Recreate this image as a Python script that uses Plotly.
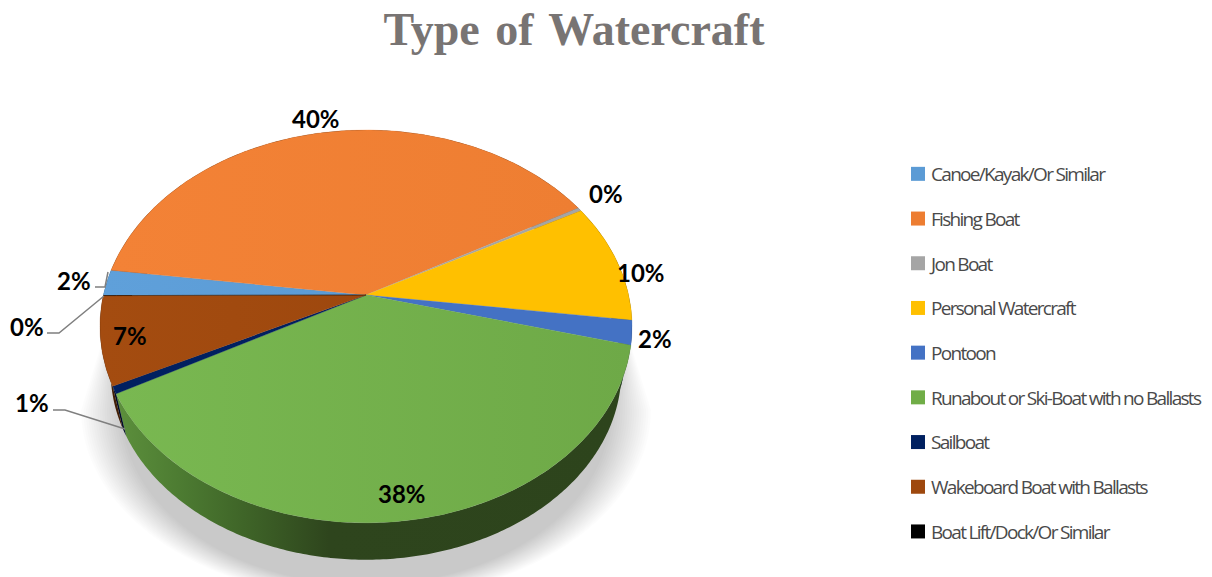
import math
import plotly.graph_objects as go

# ---- data ----
CATEGORIES = ["Canoe/Kayak/Or Similar", "Fishing Boat", "Jon Boat", "Personal Watercraft",
              "Pontoon", "Runabout or Ski-Boat with no Ballasts", "Sailboat",
              "Wakeboard Boat with Ballasts", "Boat Lift/Dock/Or Similar"]
VALUES = [2.1, 39.7, 0.3, 9.9, 2.0, 38.0, 0.6, 7.25, 0.05]
COLORS = ["#5b9bd5", "#ed7d31", "#a5a5a5", "#ffc000", "#4472c4", "#70ad47", "#002060", "#9e480e", "#000000"]
TOP_GRADIENTS = [("#5fa0da", "#5b9bd5"), ("#f38236", "#ee7e32"), ("#a5a5a5", "#a5a5a5"),
                 ("#ffc000", "#ffc000"), ("#4472c4", "#4472c4"), ("#79b851", "#6ea947"),
                 ("#002060", "#002060"), ("#a44c10", "#9e480e"), ("#000000", "#000000")]
# label text is derived from the values; placements (px) are per-slice
LABEL_POS = [(74, 280), (316, 118), (606, 193), (641, 272), (655, 338), (402, 493), (32, 402), (130, 335), (27, 326)]
LEADERS = [[(95, 287), (105, 287), (108, 272)],
           [(47, 333), (59, 333), (104, 296)],
           [(53, 410), (65, 410), (125, 429)]]

# ---- projection of the tilted disc ----
CX, CY = 366, 295
A, B, K = 191.4, 262.6, 0.16
START = 270
BASE_SCALE, BASE_DROP = 0.96, 46


def top(theta):
    s, c = math.sin(math.radians(theta)), math.cos(math.radians(theta))
    d = 1 + K * c
    return B * s / d, -A * c / d


def arc(t0, t1):
    n = max(2, int(abs(t1 - t0) * 1.5) + 1)
    return [t0 + (t1 - t0) * i / (n - 1) for i in range(n)]


def pt_top(t):
    x, y = top(t)
    return CX + x, CY + y


def pt_base(t):
    x, y = top(t)
    return CX + BASE_SCALE * x, CY + BASE_DROP + BASE_SCALE * y


def darken(hexc, f):
    r, g, b = (int(hexc[i:i + 2], 16) for i in (1, 3, 5))
    return "#%02x%02x%02x" % (int(r * f), int(g * f), int(b * f))


fig = go.Figure()

# soft shadow: nested translucent outlines
LAYERS = 18
for i in range(LAYERS):
    e = i / (LAYERS - 1)
    rx, ry = 285 - 40 * e, 190 - 15 * e
    cy = 410
    xs, ys = [104 + 10 * e], [335 + 20 * e]
    for j in range(91):
        a = math.radians(180 - 2 * j)
        xs.append(CX + rx * math.cos(a))
        ys.append(cy + ry * math.sin(a))
    xs.append(631 - 10 * e)
    ys.append(345 + 20 * e)
    fig.add_trace(go.Scatter(x=xs, y=ys, mode="none", fill="toself", fillcolor="rgba(0,0,0,0.0125)",
                             showlegend=False, hoverinfo="skip"))

total = sum(VALUES)
edges = [START]
for v in VALUES:
    edges.append(edges[-1] + v / total * 360)

# side walls
for i, (name, col) in enumerate(zip(CATEGORIES, COLORS)):
    ts = arc(edges[i], edges[i + 1])
    up = [pt_top(t) for t in ts]
    dn = [pt_base(t) for t in reversed(ts)]
    poly = up + dn
    kw = dict(fillcolor=darken(col, 0.42))
    if name.startswith("Runabout"):
        kw = dict(fillgradient=dict(type="horizontal", start=118, stop=620,
                                    colorscale=[[0, "#5c8f3c"], [0.12, "#4d7c32"], [0.25, "#3f6528"],
                                                [0.42, "#2e451d"], [1, "#2d441c"]]))
    fig.add_trace(go.Scatter(x=[p[0] for p in poly], y=[p[1] for p in poly], mode="none", fill="toself",
                             showlegend=False, hoverinfo="skip", **kw))

# top surface
for i, (name, grad) in enumerate(zip(CATEGORIES, TOP_GRADIENTS)):
    ts = arc(edges[i], edges[i + 1])
    poly = [(CX, CY)] + [pt_top(t) for t in ts]
    xs = [p[0] for p in poly]
    fig.add_trace(go.Scatter(x=xs + [CX], y=[p[1] for p in poly] + [CY], mode="lines", fill="toself",
                             line=dict(width=0.3, color=grad[1]),
                             fillgradient=dict(type="horizontal", start=min(xs), stop=max(xs),
                                               colorscale=[[0, grad[0]], [1, grad[1]]]),
                             name=name, showlegend=False, text=[f"{VALUES[i]:.0f}%"] * len(xs), hoverinfo="name+text"))

# leader lines
for ln in LEADERS:
    fig.add_trace(go.Scatter(x=[p[0] for p in ln], y=[p[1] for p in ln], mode="lines",
                             line=dict(color="#7f7f7f", width=1.5), showlegend=False, hoverinfo="skip"))

# legend entries
for i, (name, col) in enumerate(zip(CATEGORIES, COLORS)):
    fig.add_trace(go.Scatter(x=[None], y=[None], mode="markers", name=name, legendgroup=name,
                             marker=dict(symbol="square", size=14, color=col)))

for i, (x, y) in enumerate(LABEL_POS):
    fig.add_annotation(x=x, y=y, text=f"<b>{VALUES[i]:.0f}%</b>", showarrow=False,
                       font=dict(family="Lato", size=24, color="#000000"))

fig.update_layout(
    width=1212, height=577, margin=dict(l=0, r=0, t=0, b=0, autoexpand=False),
    paper_bgcolor="white", plot_bgcolor="white",
    xaxis=dict(range=[0, 1212], visible=False, fixedrange=True),
    yaxis=dict(range=[577, 0], visible=False, fixedrange=True),
    title=dict(text="<b>Type of Watercraft</b>", x=574 / 1212, xanchor="center", y=1 - 29 / 577, yanchor="middle",
               font=dict(family="Liberation Serif", size=46, color="#787473")),
    legend=dict(x=898 / 1212, y=1 - 155 / 577, xanchor="left", yanchor="top", tracegroupgap=17,
                font=dict(family="Open Sans", size=19, color="#4a4a4a"), bgcolor="rgba(0,0,0,0)", itemwidth=30),
    showlegend=True,
)

fig.write_html("out.html", config=dict(displayModeBar=False), post_script=(
    "document.body.style.margin='0';"
    "var s=document.createElement('style');"
    "s.textContent='.legendtext{letter-spacing:-1.7px;transform:translateX(-7px)}.gtitle{word-spacing:4px}';document.head.appendChild(s);"
))
